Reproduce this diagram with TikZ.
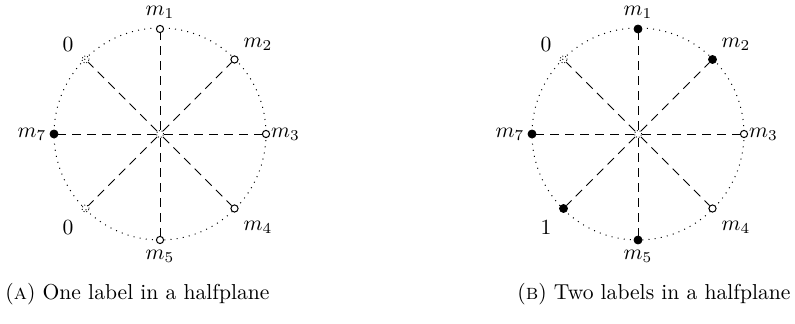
\documentclass[tikz,border=0pt]{standalone}
\begin{document}
\begin{tikzpicture}[x=0.5pt,y=-0.5pt,
  full/.style={circle,fill=black,draw=black,inner sep=0pt,minimum size=4pt},
  open/.style={circle,fill=white,draw=black,inner sep=0pt,minimum size=3.6pt,line width=0.5pt},
  ghost/.style={circle,draw=black,densely dotted,inner sep=0pt,minimum size=3.6pt,line width=0.45pt},
  ray/.style={dash pattern=on 4.5pt off 3pt,line width=0.45pt},
  rim/.style={dash pattern=on 0.5pt off 2.6pt,line width=0.5pt},
  lbl/.style={inner sep=0pt,scale=1.08},
  captext/.style={inner sep=0pt,anchor=west,scale=1.08}]
\useasboundingbox (0,0) rectangle (795,324);
% Panel A
\begin{scope}
\coordinate (ca) at (160,134);
\draw[rim] (ca) circle[x radius=106,y radius=106];
\node[ghost] (a0) at (ca) {};
\node[open] (a1) at (160,29) {};
\node[open] (a2) at (234.5,59.5) {};
\node[open] (a3) at (266,134) {};
\node[open] (a4) at (234.5,208.5) {};
\node[open] (a5) at (160,240) {};
\node[full] (a7) at (54,134) {};
\node[ghost] (a8) at (85.5,59.5) {};
\node[ghost] (a6) at (85.5,208.5) {};
\foreach \i in {1,...,8} \draw[ray] (a0) -- (a\i);
\node[lbl] (la1) at (160,12) {$m_1$};
\node[lbl] (la2) at (258,44) {$m_2$};
\node[lbl] (la3) at (285.5,134) {$m_3$};
\node[lbl] (la4) at (258,227) {$m_4$};
\node[lbl] (la5) at (160,256) {$m_5$};
\node[lbl] (la7) at (32,134) {$m_7$};
\node[lbl] (la8) at (68,45) {$0$};
\node[lbl] (la6) at (68,228) {$0$};
\node[captext] (capa) at (5,294) {(\textsc{a}) One label in a halfplane};
\end{scope}
% Panel B
\begin{scope}
\coordinate (cb) at (638,134);
\draw[rim] (cb) circle[x radius=106,y radius=106];
\node[ghost] (b0) at (cb) {};
\node[full] (b1) at (638,29) {};
\node[full] (b2) at (712.5,59.5) {};
\node[open] (b3) at (744,134) {};
\node[open] (b4) at (712.5,208.5) {};
\node[full] (b5) at (638,240) {};
\node[full] (b6) at (563.5,208.5) {};
\node[full] (b7) at (532,134) {};
\node[ghost] (b8) at (563.5,59.5) {};
\foreach \i in {1,...,8} \draw[ray] (b0) -- (b\i);
\node[lbl] (lb1) at (638,12) {$m_1$};
\node[lbl] (lb2) at (736,44) {$m_2$};
\node[lbl] (lb3) at (763.5,134) {$m_3$};
\node[lbl] (lb4) at (736,227) {$m_4$};
\node[lbl] (lb5) at (638,256) {$m_5$};
\node[lbl] (lb7) at (510,134) {$m_7$};
\node[lbl] (lb8) at (546,45) {$0$};
\node[lbl] (lb6) at (546,228) {$1$};
\node[captext] (capb) at (517,294) {(\textsc{b}) Two labels in a halfplane};
\end{scope}
\end{tikzpicture}
\end{document}
